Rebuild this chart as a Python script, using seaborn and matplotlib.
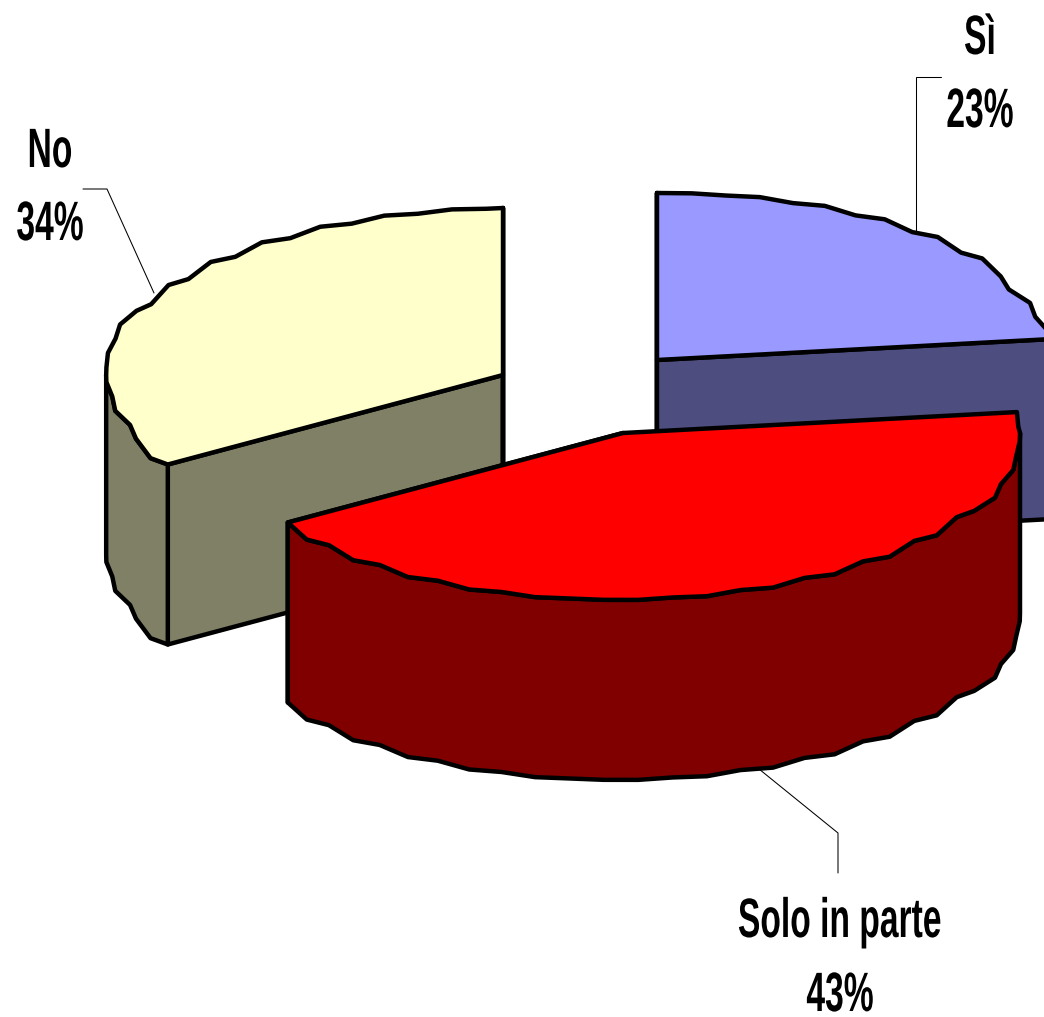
import numpy as np
import matplotlib
matplotlib.use("Agg")
import matplotlib.pyplot as plt
import matplotlib.patheffects as pe
from matplotlib.transforms import Affine2D
import seaborn as sns

# dati del grafico
categorie = ["Sì", "Solo in parte", "No"]
percentuali = [23, 43, 34]
colori_sopra = ["#9999FF", "#FF0000", "#FFFFCC"]
colori_lato = ["#4D4D80", "#800000", "#808066"]

# layout in pixel del riferimento
centri = [(657, 360), (623, 433), (503, 375)]
RX, RY, ALTEZZA = 397, 167, 180
LW = 3.2


class TestoAlto(pe.AbstractPathEffect):
    # il font del riferimento e' molto stretto: allunga il testo in verticale
    def __init__(self, k):
        super().__init__()
        self.k = k

    def draw_path(self, renderer, gc, tpath, affine, rgbFace=None):
        renderer.draw_path(gc, tpath, Affine2D().scale(1, self.k) + affine, rgbFace)


def arco(cx, cy, a0, a1):
    # bordo a piccoli gradini come nell'originale
    ang = np.r_[np.arange(a0, a1, 5.0), a1]
    ang = np.unique(np.r_[ang, [a for a in (90.0, 270.0) if a0 < a < a1]])
    rad = np.radians(ang)
    x = cx + RX * np.sin(rad)
    y = cy - RY * np.cos(rad)
    for i in range(1, len(ang) - 1, 2):
        if abs(np.cos(rad[i])) > 0.45:
            y[i] = 0.5 * y[i - 1] + 0.5 * y[i]
        else:
            x[i] = 0.5 * x[i - 1] + 0.5 * x[i]
    return ang, x, y


def poligono(ax, x, y, colore):
    ax.fill(x, y, facecolor=colore, edgecolor="black", linewidth=LW,
            joinstyle="round", clip_on=True)


def fetta(ax, centro, a0, a1, sopra, lato):
    cx, cy = centro
    ang, x, y = arco(cx, cy, a0, a1)

    # facce di taglio
    for xe, ye in [(x[0], y[0]), (x[-1], y[-1])]:
        if ye > cy or a1 < 90 or (a0 > 180 and xe < cx):
            poligono(ax, [cx, xe, xe, cx], [cy, ye, ye + ALTEZZA, cy + ALTEZZA], lato)

    # bordo esterno visibile (solo davanti), stessi vertici della faccia sopra
    davanti = (ang >= 90) & (ang <= 270)
    if davanti.sum() > 1:
        xr, yr = x[davanti], y[davanti]
        poligono(ax, np.r_[xr, xr[::-1]], np.r_[yr, yr[::-1] + ALTEZZA], lato)

    poligono(ax, np.r_[cx, x], np.r_[cy, y], sopra)


sns.set_theme(style="white")
plt.rcParams["font.family"] = ["Liberation Sans", "DejaVu Sans"]

fig = plt.figure(figsize=(10.44, 10.17), dpi=100)
ax = fig.add_axes([0, 0, 1, 1])
ax.set_xlim(0, 1044)
ax.set_ylim(1017, 0)
ax.axis("off")

# angoli in senso orario dall'alto, ricavati dalle percentuali
bordi = np.cumsum([0] + percentuali) * 3.6

# ordine: dietro a destra, poi sinistra, poi la fetta davanti
for i in [0, 2, 1]:
    fetta(ax, centri[i], bordi[i], bordi[i + 1], colori_sopra[i], colori_lato[i])

# linee di richiamo
richiami = [
    ([941, 916, 916], [77, 77, 232]),
    ([83, 107, 154], [189, 189, 293]),
    ([759, 838, 838], [769, 833, 873]),
]
for xs, ys in richiami:
    ax.plot(xs, ys, color="black", linewidth=0.75, solid_joinstyle="miter")

# etichette: nome e percentuale
posizioni = [(980, 54, 127), (840, 937, 1011), (50, 167, 240)]
for nome, perc, (xt, y1, y2) in zip(categorie, percentuali, posizioni):
    for testo, yt in [(nome, y1), (f"{perc}%", y2)]:
        ax.text(xt, yt, testo, ha="center", va="baseline", fontsize=24.2,
                fontweight="bold", color="black",
                path_effects=[TestoAlto(1.65)])

fig.savefig("out.png", dpi=100, facecolor="white")
